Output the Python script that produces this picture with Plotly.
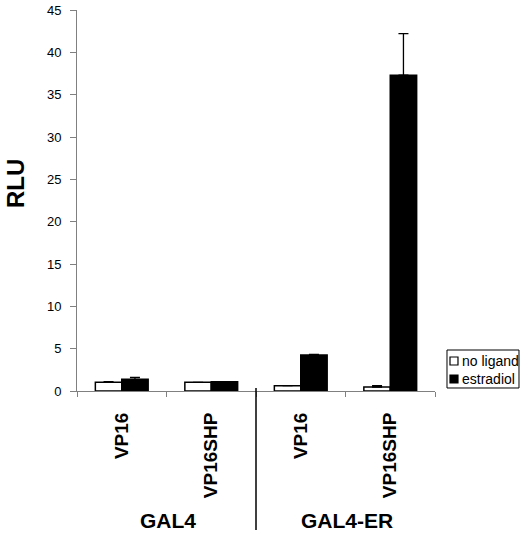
import plotly.graph_objects as go

# data
constructs = ['VP16', 'VP16SHP', 'VP16', 'VP16SHP']
groups = ['GAL4', 'GAL4-ER']
no_ligand = [1.03, 1.03, 0.63, 0.47]
no_ligand_err = [0.08, 0.0, 0.0, 0.16]
estradiol = [1.38, 1.1, 4.25, 37.3]
estradiol_err = [0.24, 0.0, 0.06, 4.9]
y_ticks = [0, 5, 10, 15, 20, 25, 30, 35, 40, 45]

FONT = 'Liberation Sans, Arial, sans-serif'
pos = list(range(len(constructs)))


def bar_trace(values, errors, fill, name):
    return go.Bar(
        x = pos,
        y = values,
        name = name,
        marker_color = fill,
        marker_line_color = 'black',
        marker_line_width = 1.5,
        error_y = dict(
            type = 'data',
            symmetric = False,
            array = errors,
            arrayminus = [0] * len(errors),
            color = 'black',
            thickness = 1.3,
            width = 5,
        ),
        showlegend = False,
    )


fig = go.Figure([
    bar_trace(no_ligand, no_ligand_err, 'white', 'no ligand'),
    bar_trace(estradiol, estradiol_err, 'black', 'estradiol'),
])

fig.update_layout(
    width = 520,
    height = 533,
    margin = dict(l = 77, r = 85, t = 10, b = 142),
    paper_bgcolor = 'white',
    plot_bgcolor = 'white',
    barmode = 'group',
    bargap = 0.41,
    bargroupgap = 0,
    font = dict(family = FONT, color = 'black'),
)

fig.update_xaxes(
    automargin = False,
    range = [-0.5, len(constructs) - 0.5],
    tickvals = pos,
    ticktext = constructs,
    tickangle = -90,
    ticks = '',
    tickfont = dict(size = 19, family = FONT, weight = 'bold'),
    ticklabelstandoff = 13,
    showline = True,
    linecolor = '#808080',
    linewidth = 1,
    showgrid = False,
    zeroline = False,
    minor = dict(
        tickvals = [p - 0.5 for p in pos] + [pos[-1] + 0.5],
        ticks = 'outside',
        ticklen = 5,
        tickcolor = '#808080',
        showgrid = False,
    ),
)

fig.update_yaxes(
    automargin = False,
    range = [0, 45],
    tickvals = y_ticks,
    ticks = 'outside',
    ticklen = 6,
    tickcolor = '#808080',
    tickfont = dict(size = 13, family = FONT),
    ticklabelstandoff = 6,
    showline = True,
    linecolor = '#808080',
    linewidth = 1,
    showgrid = False,
    zeroline = False,
)

# y title
fig.add_annotation(
    text = '<b>RLU</b>', xref = 'paper', yref = 'paper',
    x = -0.1704, y = 0.546, xanchor = 'center', yanchor = 'middle',
    textangle = -90, showarrow = False,
    font = dict(size = 24, family = FONT),
)

# group labels and divider
for i, g in enumerate(groups):
    fig.add_annotation(
        text = '<b>' + g + '</b>', xref = 'x', yref = 'paper',
        x = 2 * i + 0.52, y = -0.339, xanchor = 'center', yanchor = 'middle',
        showarrow = False, font = dict(size = 21, family = FONT),
    )
fig.add_shape(
    type = 'line', xref = 'x', yref = 'paper',
    x0 = 1.5, x1 = 1.5, y0 = 0.008, y1 = -0.365,
    line = dict(color = 'black', width = 1.5),
)

# legend drawn by hand, small as in the original
fig.add_shape(
    type = 'rect', xref = 'paper', yref = 'paper',
    x0 = 1.0335, x1 = 1.2346, y0 = 0.0079, y1 = 0.1076,
    line = dict(color = 'black', width = 1), fillcolor = 'white',
)
legend_items = [('no ligand', 'white', 0.0787), ('estradiol', 'black', 0.0315)]
for label, fill, yc in legend_items:
    fig.add_shape(
        type = 'rect', xref = 'paper', yref = 'paper',
        x0 = 1.0419, x1 = 1.0642, y0 = yc - 0.0105, y1 = yc + 0.0105,
        line = dict(color = 'black', width = 1.2), fillcolor = fill,
    )
    fig.add_annotation(
        text = label, xref = 'paper', yref = 'paper',
        x = 1.0698, y = yc, xanchor = 'left', yanchor = 'middle',
        showarrow = False, font = dict(size = 14, family = FONT),
    )

# page body margin would shift the 520x533 figure, drop it
fig.write_html(
    'out.html',
    config = {'displayModeBar': False},
    post_script = "document.body.style.margin = '0';",
)
